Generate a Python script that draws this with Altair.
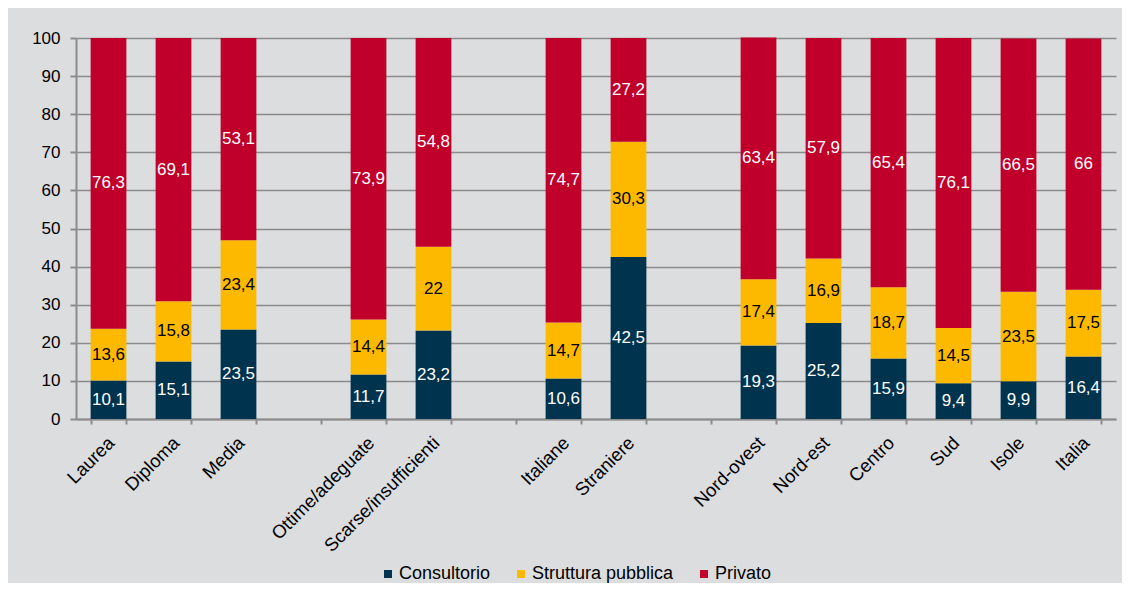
import altair as alt
import pandas as pd

categories = ["Laurea", "Diploma", "Media", " ", "Ottime/adeguate", "Scarse/insufficienti", "  ",
              "Italiane", "Straniere", "   ", "Nord-ovest", "Nord-est", "Centro", "Sud", "Isole", "Italia"]
series = ["Consultorio", "Struttura pubblica", "Privato"]
colors = ["#00334E", "#FDB900", "#C0002A"]

bar_cats = ["Laurea", "Diploma", "Media", "Ottime/adeguate", "Scarse/insufficienti",
            "Italiane", "Straniere", "Nord-ovest", "Nord-est", "Centro", "Sud", "Isole", "Italia"]
consultorio = [10.1, 15.1, 23.5, 11.7, 23.2, 10.6, 42.5, 19.3, 25.2, 15.9, 9.4, 9.9, 16.4]
struttura = [13.6, 15.8, 23.4, 14.4, 22.0, 14.7, 30.3, 17.4, 16.9, 18.7, 14.5, 23.5, 17.5]
privato = [76.3, 69.1, 53.1, 73.9, 54.8, 74.7, 27.2, 63.4, 57.9, 65.4, 76.1, 66.5, 66.0]
y_ticks = [0, 10, 20, 30, 40, 50, 60, 70, 80, 90, 100]

rows = []
for i, c in enumerate(bar_cats):
    for k, (s, vals) in enumerate(zip(series, [consultorio, struttura, privato])):
        v = vals[i]
        rows.append({"cat": c, "serie": s, "idx": k, "value": v,
                     "label": f"{v:g}".replace(".", ",")})
df = pd.DataFrame(rows)

FONT = "Liberation Sans"

base = alt.Chart(df).transform_stack(
    stack="value", groupby=["cat"], as_=["y0", "y1"], sort=[alt.SortField("idx", order="ascending")]
).transform_calculate(mid="(datum.y0 + datum.y1) / 2")

xscale = alt.Scale(domain=categories, paddingInner=0.45, paddingOuter=0.225)
yscale = alt.Scale(domain=[0, 100], nice=False)

xaxis = alt.Axis(title=None, labelAngle=-45, labelFontSize=18.5, labelColor="#000000",
                 labelFont=FONT, tickBand="extent", tickSize=5, tickColor="#8c8c8c",
                 tickWidth=2, domainColor="#8c8c8c", domainWidth=2, labelPadding=9,
                 labelOffset=-4, grid=False, labelOverlap=False)
yaxis = alt.Axis(title=None, values=y_ticks, labelFontSize=17, labelOverlap=False,
                 labelColor="#000000", labelFont=FONT, tickSize=6, tickColor="#8c8c8c",
                 tickWidth=2, domainColor="#8c8c8c", domainWidth=2, gridColor="#8c8c8c",
                 gridWidth=1.5, labelPadding=10)

bars = base.mark_bar().encode(
    x=alt.X("cat:N", sort=categories, scale=xscale, axis=xaxis),
    y=alt.Y("y0:Q", scale=yscale, axis=yaxis),
    y2="y1:Q",
    color=alt.Color("serie:N", scale=alt.Scale(domain=series, range=colors),
                    legend=alt.Legend(title=None, orient="none", direction="horizontal",
                                      legendX=303, legendY=527, symbolType="square",
                                      symbolSize=64, symbolStrokeWidth=0, labelFontSize=18,
                                      labelFont=FONT, labelColor="#000000", columnPadding=21,
                                      labelOffset=2)),
)

texts = base.mark_text(fontSize=17, font=FONT).encode(
    x=alt.X("cat:N", sort=categories, scale=xscale, axis=xaxis),
    y=alt.Y("mid:Q", scale=yscale, axis=yaxis),
    text="label:N",
    color=alt.condition(alt.datum.serie == "Struttura pubblica", alt.value("#000000"), alt.value("#ffffff")),
)

chart = alt.layer(bars, texts).properties(
    width=1040, height=381,
    background="#DCDDDF",
    autosize=alt.AutoSizeParams(type="none"),
    padding={"left": 68, "top": 30, "right": 6, "bottom": 164},
).configure_view(stroke=None)

chart.save("out.html", embed_options={"renderer": "svg", "actions": False})
